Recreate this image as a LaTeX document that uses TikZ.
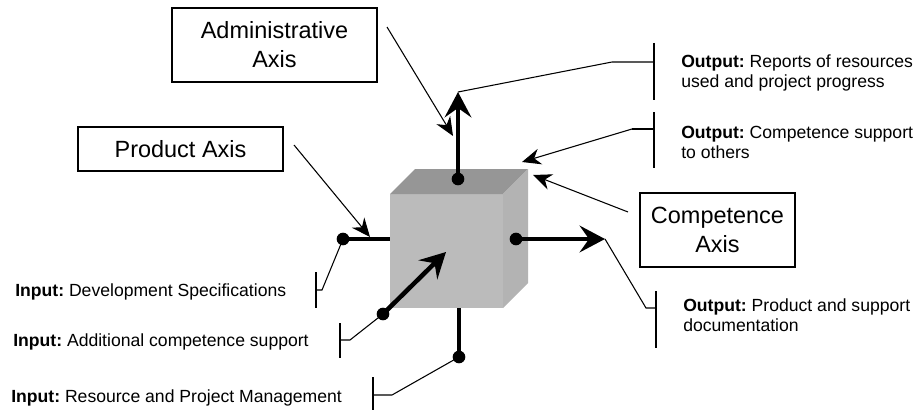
\documentclass[tikz,border=0pt]{standalone}
\usepackage{fontspec}
\setmainfont{Liberation Sans}
\usetikzlibrary{arrows.meta}
\frenchspacing

\definecolor{facefront}{HTML}{BBBBBB}
\definecolor{facetop}{HTML}{969696}
\definecolor{faceside}{HTML}{B3B3B3}

\tikzset{
  axisbox/.style={draw, line width=1pt, align=center, inner sep=0pt,
    font=\fontsize{17.6}{21.8}\selectfont},
  note/.style={anchor=west, align=left, inner sep=0pt,
    font=\fontsize{13.2}{15}\selectfont},
  dot/.style={circle, fill=black, inner sep=0pt, minimum size=9.5pt},
  flow/.style={line width=3.4pt,
    -{Stealth[length=19pt,width=20pt,inset=7pt]}},
  flowplain/.style={line width=3.4pt},
  pointer/.style={line width=0.8pt,
    -{Stealth[length=14pt,width=12pt,inset=4.5pt]}},
  leader/.style={line width=0.8pt},
}

\begin{document}
\begin{tikzpicture}[x=0.75pt,y=-0.75pt]
\useasboundingbox (0,0) rectangle (920,410);

% the cube
\fill[facefront] (390,194) rectangle (503,308);
\fill[facetop] (390,194) -- (415,169) -- (528,169) -- (503,194) -- cycle;
\fill[faceside] (503,194) -- (528,169) -- (528,283) -- (503,308) -- cycle;

% axis boxes
\node[axisbox, minimum width=153.75pt, minimum height=55.5pt] (admin) at (274.5,45) {Administrative\\Axis};
\node[axisbox, minimum width=153.75pt, minimum height=33pt] (product) at (180.5,149) {Product Axis};
\node[axisbox, minimum width=116.25pt, minimum height=55.5pt] (competence) at (717.5,230) {Competence\\Axis};

% anchor points of the flows
\node[dot] (dTop) at (458,179) {};
\node[dot] (dRight) at (516,239) {};
\node[dot] (dLeft) at (343,239) {};
\node[dot] (dDiag) at (383,314) {};
\node[dot] (dBottom) at (459,357) {};
\coordinate (tTop) at (458,92);
\coordinate (tRight) at (605,239);
\coordinate (tDiag) at (446,252);
\coordinate (cLeft) at (390,239);
\coordinate (cBottom) at (459,308);

% thick flows
\draw[flow] (dTop.center) -- (tTop);
\draw[flow] (dRight.center) -- (tRight);
\draw[flow] (dDiag.center) -- (tDiag);
\draw[flowplain] (dLeft.center) -- (cLeft);
\draw[flowplain] (cBottom) -- (dBottom.center);

% pointers from the axis boxes
\coordinate (pAdmin) at (387,27);
\coordinate (hAdmin) at (453,136);
\coordinate (pProduct) at (294,145);
\coordinate (hProduct) at (370,237);
\coordinate (pComp) at (628,212);
\coordinate (hComp) at (533,175);
\draw[pointer] (pAdmin) -- (hAdmin);
\draw[pointer] (pProduct) -- (hProduct);
\draw[pointer] (pComp) -- (hComp);

% output labels
\node[note] (outReports) at (681,73) {\textbf{Output:} Reports of resources\\used and project progress};
\node[note] (outSupport) at (681,142) {\textbf{Output:} Competence support\\to others};
\node[note] (outDocs) at (683,315) {\textbf{Output:} Product and support\\documentation};

% input labels
\node[note] (inSpecs) at (15,292) {\textbf{Input:} Development Specifications};
\node[note] (inComp) at (13,342) {\textbf{Input:} Additional competence support};
\node[note] (inMgmt) at (11,398) {\textbf{Input:} Resource and Project Management};

% leader brackets
\coordinate (bOut1a) at (654,43);  \coordinate (bOut1b) at (654,100);
\coordinate (bOut2a) at (654,112); \coordinate (bOut2b) at (654,168);
\coordinate (bOut3a) at (656,291); \coordinate (bOut3b) at (656,348);
\coordinate (bIn1a) at (316,272);  \coordinate (bIn1b) at (316,308);
\coordinate (bIn2a) at (340,323);  \coordinate (bIn2b) at (340,358);
\coordinate (bIn3a) at (373,377);  \coordinate (bIn3b) at (373,412);
\foreach \a/\b in {bOut1a/bOut1b, bOut2a/bOut2b, bOut3a/bOut3b,
                   bIn1a/bIn1b, bIn2a/bIn2b, bIn3a/bIn3b}
  \draw[leader] (\a) -- (\b);

% leader lines
\coordinate (kOut1) at (654,62);  \coordinate (jOut1) at (612,62);
\coordinate (kOut2) at (654,129); \coordinate (jOut2) at (632,129);
\coordinate (hOut2) at (522,162);
\coordinate (kOut3) at (656,308); \coordinate (jOut3) at (646,308);
\coordinate (kIn1) at (316,290);  \coordinate (jIn1) at (322,290);
\coordinate (kIn2) at (340,340);  \coordinate (jIn2) at (350,340);
\coordinate (kIn3) at (373,395);  \coordinate (jIn3) at (392,395);

\draw[leader] (kOut1) -- (jOut1) -- (tTop);
\draw[leader] (kOut2) -- (jOut2);
\draw[pointer] (jOut2) -- (hOut2);
\draw[leader] (kOut3) -- (jOut3) -- (tRight);
\draw[leader] (kIn1) -- (jIn1) -- (dLeft.center);
\draw[leader] (kIn2) -- (jIn2) -- (dDiag.center);
\draw[leader] (kIn3) -- (jIn3) -- (dBottom.center);
\end{tikzpicture}
\end{document}
